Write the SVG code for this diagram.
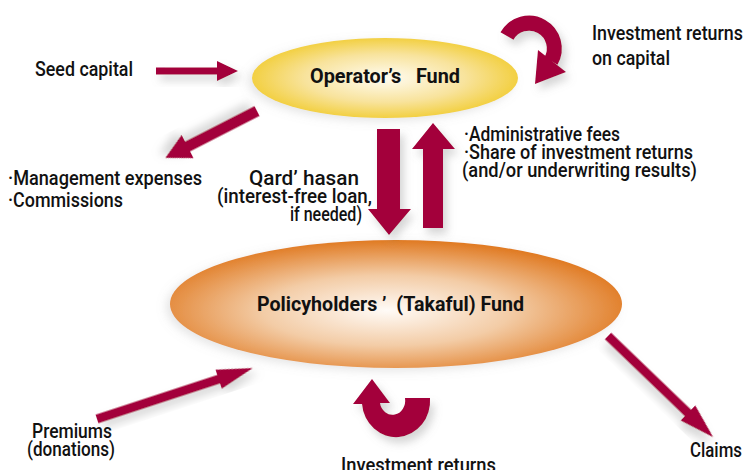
<svg xmlns="http://www.w3.org/2000/svg" width="747" height="470" viewBox="0 0 747 470">
<defs>
<radialGradient id="gOp" cx="50%" cy="50%" r="55%">
<stop offset="0" stop-color="#fffcf2"/>
<stop offset="0.55" stop-color="#f8e39c"/>
<stop offset="1" stop-color="#f1cb2c"/>
</radialGradient>
<radialGradient id="gPol" cx="48%" cy="55%" r="55%">
<stop offset="0" stop-color="#fffbf7"/>
<stop offset="0.5" stop-color="#f3cca6"/>
<stop offset="1" stop-color="#e07a22"/>
</radialGradient>
<filter id="sh" x="-30%" y="-30%" width="160%" height="160%">
<feDropShadow dx="4" dy="6" stdDeviation="4" flood-color="#888" flood-opacity="0.35"/>
</filter>
<filter id="esh" x="-20%" y="-30%" width="140%" height="160%">
<feDropShadow dx="-4" dy="3" stdDeviation="5" flood-color="#999" flood-opacity="0.25"/>
</filter>
</defs>
<style>
.ar{fill:#a3003b;filter:url(#sh)}
.t{font-family:Roboto,"Liberation Sans",Arial,sans-serif;font-size:20.5px;font-weight:500;fill:#111}
.b{font-family:Roboto,"Liberation Sans",Arial,sans-serif;font-size:20.5px;font-weight:bold;fill:#111}
</style>
<rect width="747" height="470" fill="#fff"/>

<g id="operator-fund">
<ellipse cx="385" cy="78" rx="133" ry="40" fill="url(#gOp)" filter="url(#esh)"/>
<text class="b" x="310" y="83" textLength="150" lengthAdjust="spacingAndGlyphs" xml:space="preserve">Operator’s   Fund</text>
</g>

<g id="policyholders-fund">
<ellipse cx="396" cy="304" rx="226" ry="64" fill="url(#gPol)" filter="url(#esh)"/>
<text class="b" x="257" y="311" textLength="267" lengthAdjust="spacingAndGlyphs" xml:space="preserve">Policyholders ’  (Takaful) Fund</text>
</g>

<g id="connectors">
<!-- seed capital -->
<path class="ar" transform="translate(156,71)" d="M0,-3.5 H61 V-10 L82,0 L61,10 V3.5 H0 Z"/>
<!-- management expenses -->
<path class="ar" transform="translate(257,111) rotate(152.9)" d="M0,-5.5 H78 V-13 L103,0 L78,13 V5.5 H0 Z"/>
<!-- qard hasan down -->
<path class="ar" d="M377,129 H400 V209 H411 L389,235 L368,209 H377 Z"/>
<!-- fees up -->
<path class="ar" d="M423,228 V149 H412 L433,123 L455,149 H443 V228 Z"/>
<!-- premiums -->
<path class="ar" transform="translate(97,419) rotate(-18.1)" d="M0,-4.5 H128 V-10 L164,0 L128,10 V4.5 H0 Z"/>
<!-- claims -->
<path class="ar" transform="translate(608,336) rotate(43.9)" d="M0,-4.5 H111 V-10.5 L146,0 L111,10.5 V4.5 H0 Z"/>
<!-- investment returns on capital (curved) -->
<g filter="url(#sh)">
<path d="M507,36 A25,25 0 1 1 551,61" fill="none" stroke="#a3003b" stroke-width="15"/>
<path d="M538,50 L566,72 L535,84 Z" fill="#a3003b"/>
</g>
<!-- investment returns (bottom U) -->
<path class="ar" d="M430,398 A34,36 0 0 1 362,404 L353,404 L372,379 L390,403 L380,403 A12.5,14 0 0 0 405,398 Z"/>
</g>

<g id="labels">
<text class="t" x="35" y="76" textLength="98" lengthAdjust="spacingAndGlyphs">Seed capital</text>
<text class="t" x="592" y="40" textLength="151" lengthAdjust="spacingAndGlyphs">Investment returns</text>
<text class="t" x="592" y="65" textLength="78" lengthAdjust="spacingAndGlyphs">on capital</text>
<text class="t" x="8" y="185" textLength="194" lengthAdjust="spacingAndGlyphs">·Management expenses</text>
<text class="t" x="8" y="207" textLength="115" lengthAdjust="spacingAndGlyphs">·Commissions</text>
<text class="t" x="249" y="185" textLength="110" lengthAdjust="spacingAndGlyphs">Qard’ hasan</text>
<text class="t" x="217" y="203" textLength="155" lengthAdjust="spacingAndGlyphs">(interest-free loan,</text>
<text class="t" x="290" y="221" textLength="72" lengthAdjust="spacingAndGlyphs">if needed)</text>
<text class="t" x="464" y="141" textLength="156" lengthAdjust="spacingAndGlyphs">·Administrative fees</text>
<text class="t" x="464" y="159" textLength="229" lengthAdjust="spacingAndGlyphs">·Share of investment returns</text>
<text class="t" x="462" y="177" textLength="235" lengthAdjust="spacingAndGlyphs">(and/or underwriting results)</text>
<text class="t" x="32" y="438" textLength="80" lengthAdjust="spacingAndGlyphs">Premiums</text>
<text class="t" x="27" y="456" textLength="88" lengthAdjust="spacingAndGlyphs">(donations)</text>
<text class="t" x="690" y="457" textLength="52" lengthAdjust="spacingAndGlyphs">Claims</text>
<text class="t" x="341" y="472" textLength="155" lengthAdjust="spacingAndGlyphs">Investment returns</text>
</g>
</svg>
